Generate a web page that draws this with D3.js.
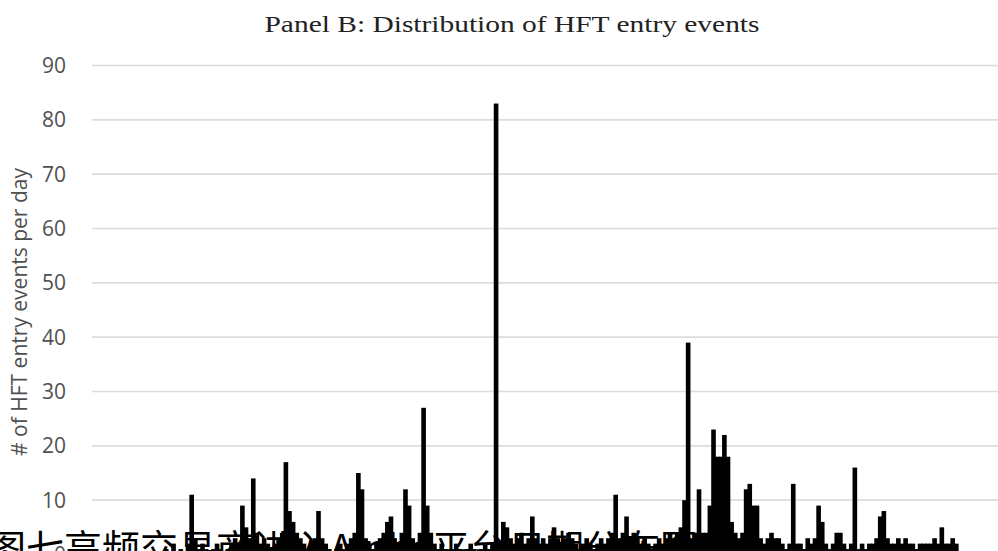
<!DOCTYPE html>
<html>
<head>
<meta charset="utf-8">
<script src="https://cdn.jsdelivr.net/npm/d3@7"></script>
<style>
  body { margin: 0; background: #fff; }
  svg { display: block; }
</style>
</head>
<body>
<svg class="chart"></svg>
<script>
// entry events per trading day (bottom of the chart is hidden under the caption)
const eventCounts = [
  0, 0, 0, 0, 0, 0, 0, 0, 0, 0, 0, 0, 0, 0, 0, 0, 0, 0, 0, 0, 1, 0, 2, 0, 1,
  0, 2, 11, 3, 1, 2, 1, 0, 1, 2, 1, 0, 1, 2, 3, 2, 9, 5, 3, 14, 4, 2, 3, 2, 1,
  2, 3, 4, 17, 8, 6, 4, 3, 2, 1, 2, 3, 8, 3, 2, 1, 0, 1, 2, 1, 2, 3, 4, 15, 12,
  3, 2, 1, 2, 3, 4, 6, 7, 3, 2, 4, 12, 9, 3, 2, 4, 27, 9, 4, 2, 1, 2, 1, 0, 1,
  2, 1, 0, 1, 2, 1, 0, 1, 2, 1, 2, 83, 2, 6, 5, 3, 2, 3, 4, 2, 3, 7, 3, 2, 3,
  2, 3, 5, 3, 2, 3, 4, 3, 2, 1, 2, 3, 2, 1, 2, 3, 2, 3, 4, 11, 3, 4, 7, 3, 4,
  3, 2, 3, 2, 1, 2, 3, 2, 3, 4, 3, 4, 5, 10, 39, 3, 4, 12, 4, 4, 9, 23, 18, 18, 22,
  18, 6, 4, 3, 4, 12, 13, 9, 9, 3, 2, 3, 4, 3, 3, 2, 1, 2, 13, 2, 2, 1, 3, 2, 3,
  9, 6, 2, 1, 2, 4, 4, 2, 1, 2, 16, 1, 2, 1, 2, 2, 3, 7, 8, 3, 2, 2, 3, 2, 3,
  2, 2, 1, 2, 2, 2, 2, 3, 2, 5, 2, 2, 3, 2, 0, 0, 0, 0, 0, 0, 0, 0, 0, 0, 0
]
const dayIndex = eventCounts.map((d, i) => i + 1)
const yTicks = [0, 10, 20, 30, 40, 50, 60, 70, 80, 90]

const titleText = "Panel B: Distribution of HFT entry events"
const yLabel = "# of HFT entry events per day"
const captionText = "图七高频交易商进入Alpha平台日期分布图"

const width = 998
const height = 551

const svg = d3.select('svg.chart')
        .attr('width', width)
        .attr('height', height)

const xScale = d3.scaleBand()
    .domain(dayIndex)
    .range([92, 998])
    .padding(0)

const yScale = d3.scaleLinear()
    .domain([0, 90])
    .range([554.5, 65.5])

// gridlines
svg.append('g')
        .selectAll('line')
        .data(yTicks)
        .enter()
        .append('line')
        .attr('x1', 92)
        .attr('x2', width)
        .attr('y1', d => yScale(d))
        .attr('y2', d => yScale(d))
        .style('stroke', '#dcdcdc')
        .style('stroke-width', 1.6)

// y tick labels
svg.append('g')
        .selectAll('text')
        .data(yTicks)
        .enter()
        .append('text')
        .attr('x', 66)
        .attr('y', d => yScale(d))
        .attr('dy', '0.36em')
        .attr('text-anchor', 'end')
        .style('font-family', '"Open Sans", sans-serif')
        .style('font-size', '21px')
        .style('fill', '#505050')
        .text(d => d)

// bars
svg.append('g')
        .selectAll('rect')
        .data(eventCounts)
        .enter()
        .append('rect')
        .attr('x', (d, i) => xScale(dayIndex[i]) - 0.5)
        .attr('width', xScale.bandwidth() + 1)
        .attr('y', d => yScale(d))
        .attr('height', d => yScale(0) - yScale(d))
        .style('fill', '#000')

// title
svg.append('text')
        .attr('x', 512)
        .attr('y', 32)
        .attr('text-anchor', 'middle')
        .attr('textLength', 495)
        .attr('lengthAdjust', 'spacingAndGlyphs')
        .style('font-family', '"Liberation Serif", serif')
        .style('font-size', '23px')
        .style('fill', '#222')
        .text(titleText)

// y axis title
svg.append('text')
        .attr('transform', 'translate(27,312)rotate(-90)')
        .attr('text-anchor', 'middle')
        .style('font-family', '"Open Sans", sans-serif')
        .style('font-size', '21px')
        .style('fill', '#505050')
        .text(yLabel)

// caption overlapping the bottom of the chart
svg.append('text')
        .attr('x', -12)
        .attr('y', 562)
        .style('font-family', '"Noto Sans CJK SC", sans-serif')
        .style('font-size', '38px')
        .style('fill', '#000')
        .text(captionText)
</script>
</body>
</html>
